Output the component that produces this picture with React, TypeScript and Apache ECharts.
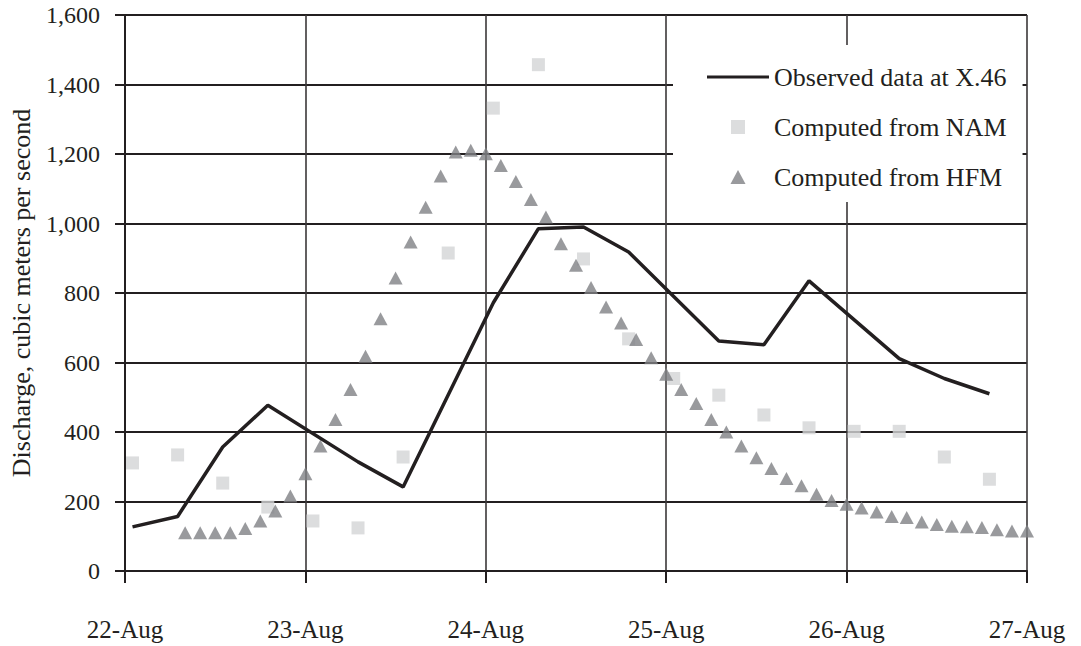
import React, { useEffect, useRef } from "react";
import * as echarts from "echarts";

// x positions in hours after 22-Aug 00:00
const xTickLabels = ["22-Aug", "23-Aug", "24-Aug", "25-Aug", "26-Aug", "27-Aug"];

const observedHours = [1, 7, 13, 19, 31, 37, 49, 55, 61, 67, 79, 85, 91, 103, 109, 115];
const observedValues = [127, 157, 357, 477, 314, 242, 772, 985, 990, 918, 662, 651, 835, 611, 554, 510];

const namHours = [1, 7, 13, 19, 25, 31, 37, 43, 49, 55, 61, 67, 73, 79, 85, 91, 97, 103, 109, 115];
const namValues = [311, 334, 253, 184, 144, 124, 328, 915, 1332, 1457, 898, 668, 554, 506, 449, 412, 402, 402, 328, 264];

const hfmHours = [
  8, 10, 12, 14, 16, 18, 20, 22, 24, 26, 28, 30, 32, 34, 36, 38, 40, 42, 44, 46,
  48, 50, 52, 54, 56, 58, 60, 62, 64, 66, 68, 70, 72, 74, 76, 78, 80, 82, 84, 86,
  88, 90, 92, 94, 96, 98, 100, 102, 104, 106, 108, 110, 112, 114, 116, 118, 120,
];
const hfmValues = [
  110, 110, 110, 110, 122, 144, 173, 216, 280, 360, 436, 522, 618, 726, 843, 947, 1047, 1137, 1206, 1211,
  1201, 1167, 1121, 1069, 1019, 942, 880, 816, 760, 714, 666, 614, 566, 522, 482, 436, 400, 360, 326, 295,
  266, 245, 221, 203, 192, 181, 170, 157, 154, 141, 134, 129, 127, 125, 119, 115, 115,
];

const seriesNames = ["Observed data at X.46", "Computed from NAM", "Computed from HFM"];

const FONT = "'Liberation Serif', 'Times New Roman', serif";
const INK = "#231f20";
const NAM_COLOR = "#d3d4d6";
const HFM_COLOR = "#808184";

function pairs(xs: number[], ys: number[]) {
  return xs.map((x, i) => [x, ys[i]]);
}

export default function App() {
  const ref = useRef<HTMLDivElement>(null);
  useEffect(() => {
    if (!ref.current) return;
    const chart = echarts.init(ref.current, undefined, { renderer: "svg" });
    chart.setOption({
      animation: false,
      backgroundColor: "#ffffff",
      textStyle: { fontFamily: FONT, color: INK },
      grid: { left: 125, right: 54, top: 15, bottom: 75, containLabel: false, outerBoundsMode: "none" },
      legend: {
        orient: "vertical",
        left: 673,
        top: 45,
        backgroundColor: "#ffffff",
        padding: [19, 16, 12, 34],
        itemWidth: 62,
        itemHeight: 14,
        itemGap: 24,
        symbolKeepAspect: true,
        data: [
          { name: seriesNames[0], icon: "path://M0,0L60,0L60,3L0,3Z", itemStyle: { color: INK } },
          { name: seriesNames[1], icon: "path://M0,0L10,0L10,10L0,10Z", itemStyle: { color: NAM_COLOR } },
          { name: seriesNames[2], icon: "path://M5,0L10,9.3L0,9.3Z", itemStyle: { color: HFM_COLOR } },
        ],
        textStyle: { fontFamily: FONT, fontSize: 26, color: INK },
      },
      xAxis: {
        type: "value",
        min: 0,
        max: 120,
        interval: 24,
        axisLine: { show: true, onZero: false, lineStyle: { color: INK, width: 2 } },
        axisTick: { show: true, inside: false, length: 12, lineStyle: { color: INK, width: 2 } },
        splitLine: { show: true, lineStyle: { color: "#3b3839", width: 1.6 } },
        axisLabel: {
          margin: 46,
          fontFamily: FONT,
          fontSize: 25,
          color: INK,
          formatter: (v: number) => xTickLabels[Math.round(v / 24)] ?? "",
        },
      },
      yAxis: {
        type: "value",
        min: 0,
        max: 1600,
        interval: 200,
        name: "Discharge, cubic meters per second",
        nameLocation: "middle",
        nameGap: 91,
        nameTextStyle: { fontFamily: FONT, fontSize: 26, color: INK },
        axisLine: { show: true, lineStyle: { color: INK, width: 2 } },
        axisTick: { show: true, inside: false, length: 10, lineStyle: { color: INK, width: 2 } },
        splitLine: { show: true, lineStyle: { color: INK, width: 2 } },
        axisLabel: {
          margin: 25,
          fontFamily: FONT,
          fontSize: 24,
          color: INK,
          formatter: (v: number) => v.toLocaleString("en-US"),
        },
      },
      series: [
        {
          name: seriesNames[1],
          type: "scatter",
          symbol: "rect",
          symbolSize: 13,
          itemStyle: { color: NAM_COLOR },
          data: pairs(namHours, namValues),
          z: 2,
        },
        {
          name: seriesNames[2],
          type: "scatter",
          symbol: "triangle",
          symbolSize: [14, 13],
          itemStyle: { color: HFM_COLOR },
          data: pairs(hfmHours, hfmValues),
          z: 3,
        },
        {
          name: seriesNames[0],
          type: "line",
          symbol: "none",
          lineStyle: { color: INK, width: 3.5 },
          itemStyle: { color: INK },
          data: pairs(observedHours, observedValues),
          z: 4,
        },
      ],
    });
    return () => chart.dispose();
  }, []);
  return (
    <div
      ref={ref}
      style={{ position: "absolute", left: 0, top: 0, width: 1081, height: 646, background: "#fff" }}
    />
  );
}
